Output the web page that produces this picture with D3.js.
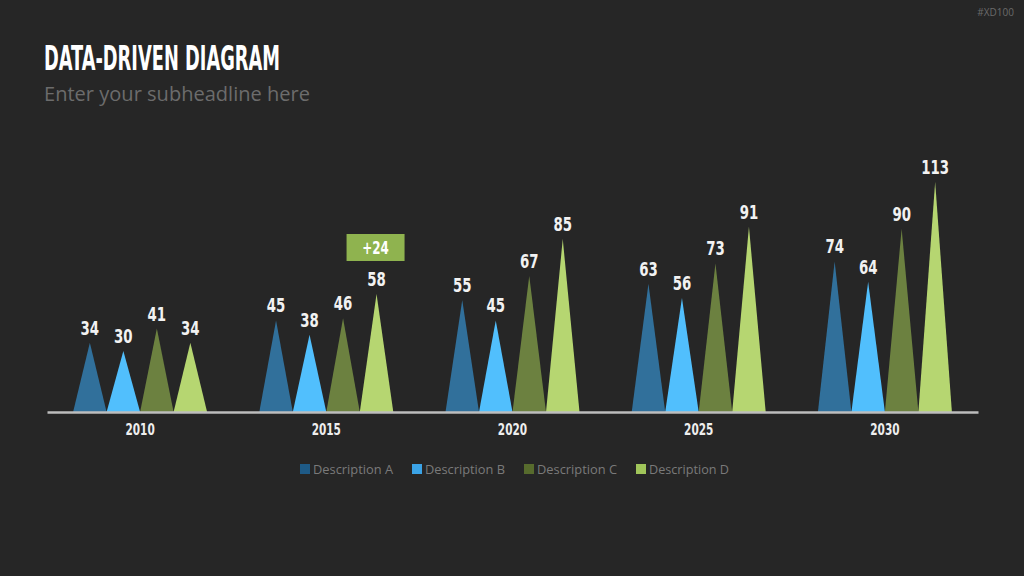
<!DOCTYPE html>
<html>
<head>
<meta charset="utf-8">
<script src="https://cdn.jsdelivr.net/npm/d3@7"></script>
<style>
  html, body { margin: 0; padding: 0; background: #262626; }
  svg { display: block; }
</style>
</head>
<body>
<svg id="chart" width="1024" height="576"></svg>
<script>
var years = ["2010", "2015", "2020", "2025", "2030"];
var series = ["Description A", "Description B", "Description C", "Description D"];
var valuesA = [34, 45, 55, 63, 74];
var valuesB = [30, 38, 45, 56, 64];
var valuesC = [41, 46, 67, 73, 90];
var valuesD = [34, 58, 85, 91, 113];
var callout = { year: "2015", series: "Description D", text: "+24" };

var svg = d3.select("#chart");
var width = +svg.attr("width");
var height = +svg.attr("height");

var condensed = "'Liberation Sans Narrow', 'DejaVu Sans Condensed', 'Roboto Condensed', sans-serif";
var squeeze = 0.78;
var triColor = d3.scaleOrdinal().domain(series).range(["#31709b", "#51bffd", "#6c8140", "#b6d671"]);
var keyColor = d3.scaleOrdinal().domain(series).range(["#1e5a86", "#3ba3e6", "#576b2d", "#a0c55a"]);

var rows = years.map(function (y, i) {
	return { year: y, vals: [valuesA[i], valuesB[i], valuesC[i], valuesD[i]] };
});

var baseY = 412;
var x0 = d3.scaleBand().domain(years).range([47, 978]).padding(0);
var x1 = d3.scaleBand().domain(series).range([0, 134]);
var y = d3.scaleLinear().domain([0, 113]).range([baseY, 182]);

// header
svg.append("text")
	.attr("x", 44).attr("y", 70)
	.attr("fill", "#ffffff")
	.style("font-family", condensed)
	.style("font-weight", "bold")
	.style("font-size", "33px")
	.attr("textLength", 236)
	.attr("lengthAdjust", "spacingAndGlyphs")
	.text("DATA-DRIVEN DIAGRAM");

svg.append("text")
	.attr("x", 44).attr("y", 101)
	.attr("fill", "#6c6c6c")
	.style("font-family", "'Open Sans', sans-serif")
	.style("font-size", "20px")
	.attr("textLength", 266)
	.attr("lengthAdjust", "spacingAndGlyphs")
	.text("Enter your subheadline here");

svg.append("text")
	.attr("x", 1014).attr("y", 16)
	.attr("text-anchor", "end")
	.attr("fill", "#6a6a6a")
	.style("font-family", "'Open Sans', sans-serif")
	.style("font-size", "10px")
	.text("#XD100");

// groups of triangles
var group = svg.append("g").selectAll("g")
	.data(rows)
	.enter().append("g")
	.attr("transform", function (d) {
		return "translate(" + (x0(d.year) + (x0.bandwidth() - 134) / 2) + ",0)";
	});

var cell = group.selectAll("g")
	.data(function (d) {
		return series.map(function (s, j) { return { year: d.year, key: s, value: d.vals[j] }; });
	})
	.enter().append("g");

cell.append("path")
	.attr("fill", function (d) { return triColor(d.key); })
	.attr("d", function (d) {
		var l = x1(d.key), r = l + x1.bandwidth(), m = l + x1.bandwidth() / 2;
		return "M" + l + "," + baseY + "L" + m + "," + y(d.value) + "L" + r + "," + baseY + "Z";
	});

cell.append("text")
	.attr("transform", function (d) {
		return "translate(" + (x1(d.key) + x1.bandwidth() / 2) + "," + (y(d.value) - 8) + ") scale(" + squeeze + ",1)";
	})
	.attr("text-anchor", "middle")
	.attr("fill", "#f2f2f2")
	.style("font-family", condensed)
	.style("font-weight", "bold")
	.style("font-size", "19px")
	.text(function (d) { return d.value; });

// axis
var axis = svg.append("g")
	.attr("transform", "translate(0," + baseY + ")")
	.call(d3.axisBottom(x0).tickSize(0).tickPadding(12));
axis.select(".domain").attr("stroke", "#bdbdbd").attr("stroke-width", 2.5);
axis.selectAll("text")
	.attr("transform", "scale(" + squeeze + ",1)")
	.attr("fill", "#eeeeee")
	.style("font-family", condensed)
	.style("font-weight", "bold")
	.style("font-size", "15px");

// callout box
var cx = x0(callout.year) + (x0.bandwidth() - 134) / 2 + x1(callout.series) + x1.bandwidth() / 2;
svg.append("rect")
	.attr("x", cx - 30).attr("y", 234)
	.attr("width", 58).attr("height", 27)
	.attr("fill", "#8fb34f");
svg.append("text")
	.attr("transform", "translate(" + (cx - 1) + ",254) scale(" + squeeze + ",1)")
	.attr("text-anchor", "middle")
	.attr("fill", "#ffffff")
	.style("font-family", condensed)
	.style("font-weight", "bold")
	.style("font-size", "17px")
	.text(callout.text);

// legend
var legendX = [300, 412, 524, 636];
var legend = svg.append("g").selectAll("g")
	.data(series)
	.enter().append("g")
	.attr("transform", function (d, i) { return "translate(" + legendX[i] + ",464)"; });

legend.append("rect")
	.attr("width", 10).attr("height", 10)
	.attr("fill", function (d) { return keyColor(d); });

legend.append("text")
	.attr("x", 13).attr("y", 9.5)
	.attr("fill", "#7a7a7a")
	.style("font-family", "'Open Sans', sans-serif")
	.style("font-size", "13px")
	.attr("textLength", 80)
	.attr("lengthAdjust", "spacingAndGlyphs")
	.text(function (d) { return d; });
</script>
</body>
</html>
